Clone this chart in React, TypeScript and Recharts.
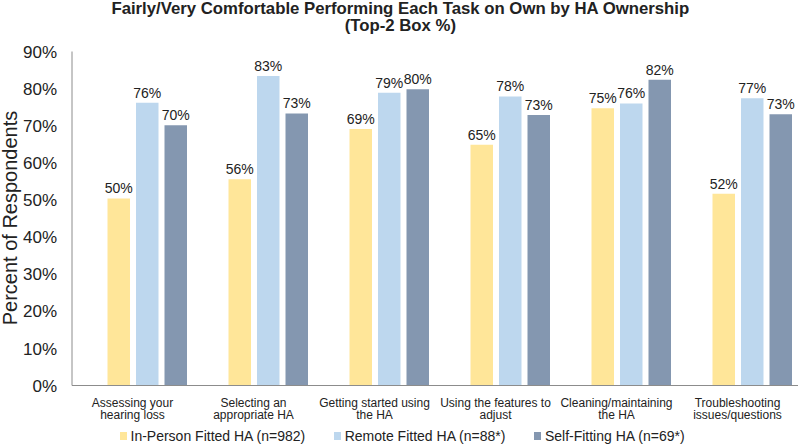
import React from "react";
import { Bar, BarChart, LabelList, XAxis, YAxis } from "recharts";

// task categories, "\n" marks the line break used under the axis
const categories = [
    "Assessing your\nhearing loss",
    "Selecting an\nappropriate HA",
    "Getting started using\nthe HA",
    "Using the features to\nadjust",
    "Cleaning/maintaining\nthe HA",
    "Troubleshooting\nissues/questions",
];

// Top-2 box %
const inPerson = [50.4, 55.6, 69.1, 64.9, 74.7, 51.7];
const remote = [76.2, 83.4, 78.9, 77.9, 76.0, 77.4];
const selfFitting = [70.1, 73.3, 79.8, 72.9, 82.4, 73.1];
// the source sheet has an empty first series, which shifts the bars right of the labels
const blank = [0, 0, 0, 0, 0, 0];

const yTicks = [0, 10, 20, 30, 40, 50, 60, 70, 80, 90];

const series = [
    { key: "inPerson", name: "In-Person Fitted HA (n=982)", color: "#FFE699" },
    { key: "remote", name: "Remote Fitted HA (n=88*)", color: "#BDD7EE" },
    { key: "selfFitting", name: "Self-Fitting HA (n=69*)", color: "#8497B0" },
];

const data = categories.map((name, i) => ({
    name,
    blank: blank[i],
    inPerson: inPerson[i],
    remote: remote[i],
    selfFitting: selfFitting[i],
}));

const FONT = "'Liberation Sans', Arial, sans-serif";
const TEXT = "#222";

const CategoryTick = ({ x, y, payload }: any) => {
    const lines = String(payload.value).split("\n");
    return (
        <text x={x} y={y} textAnchor="middle" fontSize={12} fill={TEXT} fontFamily={FONT}>
            {lines.map((line, i) => (
                <tspan key={i} x={x} dy={i === 0 ? 21 : 12.5}>
                    {line}
                </tspan>
            ))}
        </text>
    );
};

const PercentTick = ({ y, payload }: any) => (
    <text x={57} y={y} dy="0.36em" textAnchor="end" fontSize={17} fill={TEXT} fontFamily={FONT}>
        {payload.value}%
    </text>
);

const pct = (v: any) => `${Math.round(Number(v))}%`;

export default function App() {
    return (
        <div
            style={{
                position: "absolute",
                left: 0,
                top: 0,
                width: 800,
                height: 444,
                background: "#fff",
                fontFamily: FONT,
                overflow: "hidden",
            }}
        >
            {/* title */}
            <div
                style={{
                    position: "absolute",
                    left: 0,
                    width: 800,
                    top: -0.5,
                    textAlign: "center",
                    fontWeight: "bold",
                    fontSize: 17,
                    lineHeight: "17.5px",
                    color: TEXT,
                }}
            >
                <div style={{ display: "inline-block", transform: "scaleX(0.985)", transformOrigin: "center" }}>
                    Fairly/Very Comfortable Performing Each Task on Own by HA Ownership
                    <br />
                    (Top-2 Box %)
                </div>
            </div>

            <BarChart
                width={800}
                height={444}
                data={data}
                margin={{ top: 51.5, right: 2, bottom: 28.5, left: 12 }}
                barSize={22.5}
                barGap={6}
            >
                <XAxis
                    dataKey="name"
                    interval={0}
                    height={30}
                    tickLine={false}
                    tickSize={0}
                    tickMargin={0}
                    stroke="#8c8c8c"
                    tick={<CategoryTick />}
                />
                <YAxis
                    width={60}
                    domain={[0, 90]}
                    ticks={yTicks}
                    interval={0}
                    tickLine={false}
                    stroke="#8c8c8c"
                    tick={<PercentTick />}
                    label={{
                        content: () => (
                            <text
                                x={16.5}
                                y={218}
                                transform="rotate(-90 16.5 218)"
                                textAnchor="middle"
                                fontSize={20}
                                fill={TEXT}
                                fontFamily={FONT}
                            >
                                Percent of Respondents
                            </text>
                        ),
                    }}
                />
                <Bar dataKey="blank" fill="transparent" legendType="none" isAnimationActive={false} />
                {series.map((s) => (
                    <Bar key={s.key} dataKey={s.key} name={s.name} fill={s.color} isAnimationActive={false}>
                        <LabelList
                            dataKey={s.key}
                            position="top"
                            offset={5}
                            formatter={pct}
                            fontSize={14}
                            fill={TEXT}
                            fontFamily={FONT}
                        />
                    </Bar>
                ))}
            </BarChart>

            {/* legend */}
            <div
                style={{
                    position: "absolute",
                    left: 120,
                    top: 428,
                    display: "flex",
                    gap: 29,
                    fontSize: 14,
                    color: TEXT,
                    whiteSpace: "nowrap",
                }}
            >
                {series.map((s) => (
                    <div key={s.key} style={{ display: "flex", alignItems: "center", gap: 4 }}>
                        <span style={{ width: 6.5, height: 8, background: s.color, display: "inline-block" }} />
                        <span>{s.name}</span>
                    </div>
                ))}
            </div>
        </div>
    );
}
